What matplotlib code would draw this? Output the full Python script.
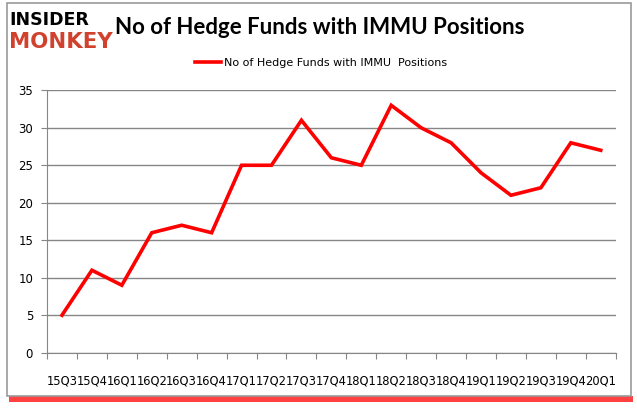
import matplotlib.pyplot as plt
from matplotlib.patches import Rectangle

quarters = ["15Q3", "15Q4", "16Q1", "16Q2", "16Q3", "16Q4", "17Q1", "17Q2", "17Q3", "17Q4",
            "18Q1", "18Q2", "18Q3", "18Q4", "19Q1", "19Q2", "19Q3", "19Q4", "20Q1"]
funds = [5, 11, 9, 16, 17, 16, 25, 25, 31, 26, 25, 33, 30, 28, 24, 21, 22, 28, 27]
series_name = "No of Hedge Funds with IMMU  Positions"

fig = plt.figure(figsize=(6.37, 4.08), dpi=100)
W, H = 637, 408

# outer frame with red shadow
fig.patches.append(Rectangle((9 / W, 1 - 402 / H), 624 / W, 6 / H, transform=fig.transFigure,
                             facecolor="#ff2020", edgecolor="none", alpha=0.85, zorder=0))
fig.patches.append(Rectangle((7 / W, 1 - 396 / H), 624 / W, 393 / H, transform=fig.transFigure,
                             facecolor="white", edgecolor="#9a9a9a", linewidth=1.2, zorder=1))

ax = fig.add_axes([47 / W, 1 - 352.7 / H, (615.7 - 47) / W, (352.7 - 90.3) / H])
ax.set_zorder(2)
xs = [i + 0.5 for i in range(len(quarters))]
ax.plot(xs, funds, color="#ff0000", linewidth=2.6, solid_joinstyle="miter", label=series_name)

ax.set_xlim(0, len(quarters))
ax.set_ylim(0, 35)
ax.set_yticks(range(0, 36, 5))
ax.set_xticks(range(len(quarters) + 1))
ax.set_xticklabels([])
ax.set_xticks(xs, minor=True)
ax.set_xticklabels(quarters, minor=True, fontsize=8.3)
ax.tick_params(axis="x", which="minor", length=0, pad=16)
ax.tick_params(axis="x", which="major", length=4, color="#868686", direction="out")
ax.tick_params(axis="y", length=4, color="#868686", labelsize=8.5, pad=6)
ax.yaxis.grid(True, color="#868686", linewidth=1)
ax.set_axisbelow(True)
for s in ["top", "right"]:
    ax.spines[s].set_visible(False)
for s in ["left", "bottom"]:
    ax.spines[s].set_color("#868686")

fig.text(320 / W, 1 - 28 / H, "No of Hedge Funds with IMMU Positions", fontsize=16,
         fontweight="bold", family="Lato", ha="center", va="center")
fig.text(9 / W, 1 - 20 / H, "INSIDER", fontsize=12.5, fontweight="heavy", color="black",
         ha="left", va="center")
fig.text(9 / W, 1 - 42 / H, "MONKEY", fontsize=15.3, fontweight="heavy", color="#d0412e",
         ha="left", va="center")

leg = fig.legend(loc="center", bbox_to_anchor=(321 / W, 1 - 63 / H), frameon=False,
                 fontsize=8, handlelength=2.3, handletextpad=0.3)

fig.savefig("out.png", dpi=100)
